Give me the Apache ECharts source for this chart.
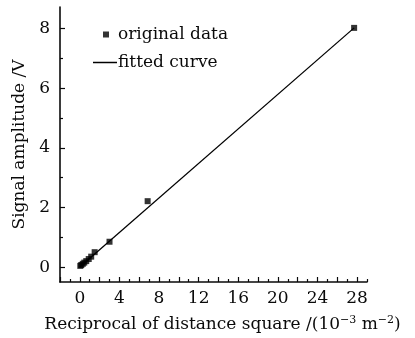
<!DOCTYPE html>
<html>
<head>
<meta charset="utf-8">
<script src="https://cdn.jsdelivr.net/npm/echarts@6/dist/echarts.min.js"></script>
<style>html,body{margin:0;padding:0;background:#fff;}#c{width:415px;height:338px;}</style>
</head>
<body>
<div id="c"></div>
<script>
// Data
const origX = [0.05, 0.15, 0.3, 0.45, 0.65, 0.9, 1.15, 1.5, 3.0, 6.85, 27.7];
const origY = [0.04, 0.07, 0.11, 0.15, 0.2, 0.27, 0.35, 0.5, 0.85, 2.21, 8.02];
const fitX = [0, 27.7];
const fitY = [0.0, 8.02];
const xLabels = [0, 4, 8, 12, 16, 20, 24, 28];
const xMajorTicks = [-2, 0, 2, 4, 6, 8, 10, 12, 14, 16, 18, 20, 22, 24, 26, 28];
const xMinorTicks = [-1, 1, 3, 5, 7, 9, 11, 13, 15, 17, 19, 21, 23, 25, 27, 29];
const yLabels = [0, 2, 4, 6, 8];
const yMajorTicks = [0, 2, 4, 6, 8];
const yMinorTicks = [1, 3, 5, 7];

const FONT = 'DejaVu Serif';
const C = '#0a0a0a';
const chart = echarts.init(document.getElementById('c'), null, {renderer: 'canvas'});
const axisLine = {show: true, onZero: false, lineStyle: {color: C, width: 1.6}};
chart.setOption({
  animation: false,
  backgroundColor: '#fff',
  textStyle: {fontFamily: FONT, color: C},
  grid: {left: 60, right: 48, top: 7, bottom: 52},
  legend: [
    {data: [{name: 'original data', icon: 'rect'}], orient: 'vertical', left: 98, top: 21,
      itemWidth: 6, itemHeight: 6, itemGap: 10,
      textStyle: {fontFamily: FONT, fontSize: 17, color: C, padding: [0, 0, 0, 4]}},
    {data: [{name: 'fitted curve', icon: 'rect'}], orient: 'vertical', left: 88, top: 49,
      itemWidth: 24, itemHeight: 1.5,
      textStyle: {fontFamily: FONT, fontSize: 17, color: C, padding: [0, 0, 0, -4]}}
  ],
  xAxis: [{
    type: 'value', min: -2, max: 29,
    name: 'Reciprocal of distance square /(10{s|−3} m{s|−2})',
    nameLocation: 'middle', nameGap: 33,
    nameTextStyle: {fontFamily: FONT, fontSize: 17, color: C, padding: [0, 0, 0, 18],
      rich: {s: {fontFamily: FONT, fontSize: 11, color: C, verticalAlign: 'top', padding: [0, 0, 8, 0]}}},
    axisLine: axisLine,
    axisTick: {show: true, inside: true, length: 5, customValues: xMajorTicks, lineStyle: {color: C, width: 1.2}},
    axisLabel: {customValues: xLabels, fontFamily: FONT, fontSize: 17, color: C, margin: 8},
    splitLine: {show: false}
  }, {
    type: 'value', min: -2, max: 29, position: 'bottom',
    axisLine: {show: false, onZero: false},
    axisTick: {show: true, inside: true, length: 3, customValues: xMinorTicks, lineStyle: {color: C, width: 1.2}},
    axisLabel: {show: false},
    splitLine: {show: false}
  }],
  yAxis: [{
    type: 'value', min: -0.5, max: 8.72,
    name: 'Signal amplitude /V',
    nameLocation: 'middle', nameGap: 24,
    nameTextStyle: {fontFamily: FONT, fontSize: 17, color: C},
    axisLine: axisLine,
    axisTick: {show: true, inside: true, length: 5, customValues: yMajorTicks, lineStyle: {color: C, width: 1.2}},
    axisLabel: {customValues: yLabels, fontFamily: FONT, fontSize: 17, color: C, margin: 10},
    splitLine: {show: false}
  }, {
    type: 'value', min: -0.5, max: 8.72, position: 'left',
    axisLine: {show: false, onZero: false},
    axisTick: {show: true, inside: true, length: 3, customValues: yMinorTicks, lineStyle: {color: C, width: 1.2}},
    axisLabel: {show: false},
    splitLine: {show: false}
  }],
  series: [{
    name: 'original data', type: 'scatter', symbol: 'rect', symbolSize: 6,
    itemStyle: {color: '#000'},
    data: origX.map((x, i) => [x, origY[i]]), z: 3
  }, {
    name: 'fitted curve', type: 'line', showSymbol: false, symbol: 'none',
    lineStyle: {color: '#000', width: 1.3}, itemStyle: {color: '#000'},
    data: fitX.map((x, i) => [x, fitY[i]])
  }]
});
</script>
</body>
</html>
